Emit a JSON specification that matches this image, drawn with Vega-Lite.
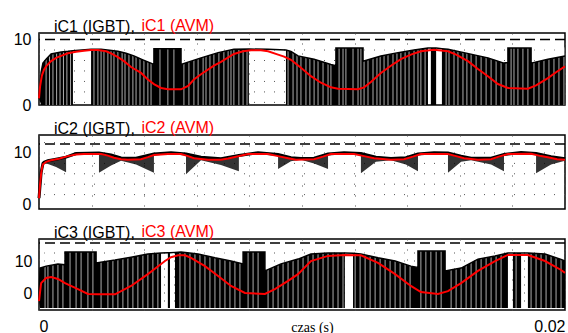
{
"$schema": "https://vega.github.io/schema/vega-lite/v6.json",
"padding": {"left": 12, "top": 16, "right": 0, "bottom": 0},
"spacing": 30,
"bounds": "flush",
"config": {
  "view": {"stroke": "#000", "strokeWidth": 1.5},
  "axis": {"labelFont": "Liberation Sans", "labelFontSize": 16, "labelColor": "#000", "ticks": false, "domain": false, "gridColor": "#555", "gridDash": [1, 9], "gridWidth": 1, "gridOpacity": 1, "labelOverlap": false},
  "title": {"font": "Liberation Sans", "fontSize": 16, "fontWeight": "normal", "color": "#000", "anchor": "start", "frame": "group", "baseline": "alphabetic", "offset": -18, "dx": 15}
},
"datasets": {
  "avm": [
    {"p":1,"t":0,"i":1.0},{"p":1,"t":0.00004,"i":2.8},{"p":1,"t":0.00008,"i":3.8},{"p":1,"t":0.00011,"i":4.5},{"p":1,"t":0.00019,"i":5.4},{"p":1,"t":0.00027,"i":5.9},{"p":1,"t":0.00046,"i":6.7},{"p":1,"t":0.00065,"i":7.2},{"p":1,"t":0.00084,"i":7.5},{"p":1,"t":0.00110,"i":7.9},{"p":1,"t":0.00141,"i":8.15},{"p":1,"t":0.00171,"i":8.3},{"p":1,"t":0.00198,"i":8.4},{"p":1,"t":0.00224,"i":8.4},{"p":1,"t":0.00255,"i":8.2},{"p":1,"t":0.00274,"i":7.9},{"p":1,"t":0.00300,"i":7.3},{"p":1,"t":0.00323,"i":6.7},{"p":1,"t":0.00350,"i":5.8},{"p":1,"t":0.00388,"i":4.9},{"p":1,"t":0.00414,"i":3.9},{"p":1,"t":0.00437,"i":3.2},{"p":1,"t":0.00464,"i":2.6},{"p":1,"t":0.00490,"i":2.4},{"p":1,"t":0.00540,"i":2.4},{"p":1,"t":0.00567,"i":2.9},{"p":1,"t":0.00589,"i":3.9},{"p":1,"t":0.00616,"i":4.7},{"p":1,"t":0.00665,"i":6.0},{"p":1,"t":0.00692,"i":6.6},{"p":1,"t":0.00741,"i":7.8},{"p":1,"t":0.00776,"i":8.2},{"p":1,"t":0.00806,"i":8.35},{"p":1,"t":0.00844,"i":8.35},{"p":1,"t":0.00871,"i":8.2},{"p":1,"t":0.00909,"i":7.7},{"p":1,"t":0.00932,"i":7.4},{"p":1,"t":0.00958,"i":6.9},{"p":1,"t":0.00996,"i":5.7},{"p":1,"t":0.01034,"i":4.4},{"p":1,"t":0.01072,"i":3.4},{"p":1,"t":0.01110,"i":2.7},{"p":1,"t":0.01137,"i":2.5},{"p":1,"t":0.01213,"i":2.4},{"p":1,"t":0.01236,"i":2.7},{"p":1,"t":0.01262,"i":3.5},{"p":1,"t":0.01300,"i":4.9},{"p":1,"t":0.01338,"i":6.0},{"p":1,"t":0.01376,"i":7.0},{"p":1,"t":0.01414,"i":7.7},{"p":1,"t":0.01452,"i":8.2},{"p":1,"t":0.01502,"i":8.45},{"p":1,"t":0.01555,"i":8.2},{"p":1,"t":0.01586,"i":7.7},{"p":1,"t":0.01631,"i":6.7},{"p":1,"t":0.01669,"i":5.5},{"p":1,"t":0.01707,"i":4.4},{"p":1,"t":0.01745,"i":3.2},{"p":1,"t":0.01783,"i":2.6},{"p":1,"t":0.01859,"i":2.5},{"p":1,"t":0.01890,"i":3.0},{"p":1,"t":0.01935,"i":4.1},{"p":1,"t":0.01966,"i":5.0},{"p":1,"t":0.02,"i":5.9},
    {"p":2,"t":0,"i":1.3},{"p":2,"t":0.00004,"i":4.0},{"p":2,"t":0.00008,"i":6.0},{"p":2,"t":0.00011,"i":7.0},{"p":2,"t":0.00015,"i":7.8},{"p":2,"t":0.00027,"i":8.3},{"p":2,"t":0.00046,"i":8.6},{"p":2,"t":0.00076,"i":8.9},{"p":2,"t":0.00110,"i":9.4},{"p":2,"t":0.00141,"i":9.7},{"p":2,"t":0.00171,"i":9.8},{"p":2,"t":0.00236,"i":9.8},{"p":2,"t":0.00262,"i":9.5},{"p":2,"t":0.00285,"i":9.1},{"p":2,"t":0.00312,"i":8.8},{"p":2,"t":0.00338,"i":8.7},{"p":2,"t":0.00388,"i":8.8},{"p":2,"t":0.00414,"i":9.2},{"p":2,"t":0.00437,"i":9.6},{"p":2,"t":0.00490,"i":9.8},{"p":2,"t":0.00540,"i":9.8},{"p":2,"t":0.00567,"i":9.4},{"p":2,"t":0.00589,"i":9.0},{"p":2,"t":0.00643,"i":8.7},{"p":2,"t":0.00692,"i":8.7},{"p":2,"t":0.00719,"i":8.95},{"p":2,"t":0.00741,"i":9.2},{"p":2,"t":0.00795,"i":9.8},{"p":2,"t":0.00871,"i":9.8},{"p":2,"t":0.00909,"i":9.4},{"p":2,"t":0.00947,"i":9.0},{"p":2,"t":0.00977,"i":8.7},{"p":2,"t":0.01046,"i":8.8},{"p":2,"t":0.01080,"i":9.3},{"p":2,"t":0.01110,"i":9.8},{"p":2,"t":0.01198,"i":9.8},{"p":2,"t":0.01236,"i":9.4},{"p":2,"t":0.01274,"i":9.0},{"p":2,"t":0.01338,"i":8.7},{"p":2,"t":0.01388,"i":8.8},{"p":2,"t":0.01422,"i":9.3},{"p":2,"t":0.01452,"i":9.8},{"p":2,"t":0.01555,"i":9.8},{"p":2,"t":0.01586,"i":9.4},{"p":2,"t":0.01616,"i":9.0},{"p":2,"t":0.01669,"i":8.7},{"p":2,"t":0.01719,"i":8.8},{"p":2,"t":0.01749,"i":9.3},{"p":2,"t":0.01783,"i":9.8},{"p":2,"t":0.01871,"i":9.85},{"p":2,"t":0.01909,"i":9.4},{"p":2,"t":0.01935,"i":9.2},{"p":2,"t":0.01970,"i":8.8},{"p":2,"t":0.02,"i":8.7},
    {"p":3,"t":0,"i":-2.5},{"p":3,"t":0.00008,"i":3.1},{"p":3,"t":0.00027,"i":4.7},{"p":3,"t":0.00046,"i":5.0},{"p":3,"t":0.00072,"i":4.4},{"p":3,"t":0.00099,"i":3.1},{"p":3,"t":0.00148,"i":1.2},{"p":3,"t":0.00186,"i":-0.3},{"p":3,"t":0.00224,"i":-0.4},{"p":3,"t":0.00289,"i":-0.4},{"p":3,"t":0.00350,"i":2.2},{"p":3,"t":0.00414,"i":5.9},{"p":3,"t":0.00479,"i":10.0},{"p":3,"t":0.00502,"i":11.2},{"p":3,"t":0.00529,"i":11.8},{"p":3,"t":0.00555,"i":11.8},{"p":3,"t":0.00578,"i":11.0},{"p":3,"t":0.00631,"i":8.4},{"p":3,"t":0.00681,"i":5.3},{"p":3,"t":0.00730,"i":2.2},{"p":3,"t":0.00783,"i":0.0},{"p":3,"t":0.00859,"i":-0.3},{"p":3,"t":0.00897,"i":1.2},{"p":3,"t":0.00947,"i":3.8},{"p":3,"t":0.00985,"i":5.9},{"p":3,"t":0.01034,"i":10.0},{"p":3,"t":0.01099,"i":11.6},{"p":3,"t":0.01163,"i":11.9},{"p":3,"t":0.01224,"i":11.8},{"p":3,"t":0.01289,"i":9.4},{"p":3,"t":0.01354,"i":5.9},{"p":3,"t":0.01414,"i":2.2},{"p":3,"t":0.01452,"i":0.3},{"p":3,"t":0.01517,"i":-0.3},{"p":3,"t":0.01555,"i":0.6},{"p":3,"t":0.01605,"i":3.1},{"p":3,"t":0.01669,"i":6.9},{"p":3,"t":0.01734,"i":10.0},{"p":3,"t":0.01783,"i":11.9},{"p":3,"t":0.01859,"i":11.9},{"p":3,"t":0.01924,"i":10.0},{"p":3,"t":0.01985,"i":7.2},{"p":3,"t":0.02,"i":6.3}
  ],
  "ig": [
    {"p":1,"t":0,"hi":1.0,"lo":1.0},{"p":1,"t":0.00008,"hi":5.0,"lo":0},{"p":1,"t":0.00015,"hi":6.4,"lo":0},{"p":1,"t":0.00027,"hi":7.0,"lo":0},{"p":1,"t":0.00046,"hi":7.8,"lo":0},{"p":1,"t":0.00084,"hi":8.1,"lo":0},{"p":1,"t":0.00110,"hi":8.2,"lo":0},{"p":1,"t":0.00129,"hi":8.3,"lo":0},{"p":1,"t":0.00129,"hi":8.3,"lo":8.3},{"p":1,"t":0.00198,"hi":8.5,"lo":8.5},{"p":1,"t":0.00198,"hi":8.5,"lo":0},{"p":1,"t":0.00236,"hi":8.5,"lo":0},{"p":1,"t":0.00300,"hi":8.2,"lo":0},{"p":1,"t":0.00331,"hi":7.9,"lo":0},{"p":1,"t":0.00361,"hi":7.5,"lo":0},{"p":1,"t":0.00395,"hi":6.9,"lo":0},{"p":1,"t":0.00437,"hi":6.2,"lo":0},{"p":1,"t":0.00437,"hi":8.6,"lo":0},{"p":1,"t":0.00540,"hi":8.6,"lo":0},{"p":1,"t":0.00540,"hi":6.2,"lo":0},{"p":1,"t":0.00578,"hi":6.7,"lo":0},{"p":1,"t":0.00616,"hi":7.2,"lo":0},{"p":1,"t":0.00681,"hi":8.0,"lo":0},{"p":1,"t":0.00741,"hi":8.5,"lo":0},{"p":1,"t":0.00798,"hi":8.55,"lo":0},{"p":1,"t":0.00798,"hi":8.55,"lo":8.55},{"p":1,"t":0.00871,"hi":8.5,"lo":8.5},{"p":1,"t":0.00939,"hi":8.4,"lo":8.4},{"p":1,"t":0.00939,"hi":8.4,"lo":0},{"p":1,"t":0.00958,"hi":8.2,"lo":0},{"p":1,"t":0.00985,"hi":7.5,"lo":0},{"p":1,"t":0.01046,"hi":7.0,"lo":0},{"p":1,"t":0.01110,"hi":6.2,"lo":0},{"p":1,"t":0.01129,"hi":6.0,"lo":0},{"p":1,"t":0.01129,"hi":8.7,"lo":0},{"p":1,"t":0.01232,"hi":8.7,"lo":0},{"p":1,"t":0.01232,"hi":6.7,"lo":0},{"p":1,"t":0.01300,"hi":7.5,"lo":0},{"p":1,"t":0.01365,"hi":8.0,"lo":0},{"p":1,"t":0.01426,"hi":8.4,"lo":0},{"p":1,"t":0.01479,"hi":8.7,"lo":0},{"p":1,"t":0.01479,"hi":8.7,"lo":8.7},{"p":1,"t":0.01490,"hi":8.7,"lo":8.7},{"p":1,"t":0.01490,"hi":8.7,"lo":0},{"p":1,"t":0.01510,"hi":8.7,"lo":0},{"p":1,"t":0.01510,"hi":8.7,"lo":8.7},{"p":1,"t":0.01532,"hi":8.6,"lo":8.6},{"p":1,"t":0.01532,"hi":8.6,"lo":0},{"p":1,"t":0.01555,"hi":8.5,"lo":0},{"p":1,"t":0.01616,"hi":8.0,"lo":0},{"p":1,"t":0.01707,"hi":7.2,"lo":0},{"p":1,"t":0.01768,"hi":6.4,"lo":0},{"p":1,"t":0.01783,"hi":6.5,"lo":0},{"p":1,"t":0.01783,"hi":8.7,"lo":0},{"p":1,"t":0.01871,"hi":8.7,"lo":0},{"p":1,"t":0.01871,"hi":6.4,"lo":0},{"p":1,"t":0.01935,"hi":7.0,"lo":0},{"p":1,"t":0.02,"hi":7.5,"lo":0},
    {"p":2,"t":0,"hi":1.3,"lo":1.3},{"p":2,"t":0.00008,"hi":6.2,"lo":6.2},{"p":2,"t":0.00015,"hi":8.0,"lo":8.0},{"p":2,"t":0.00019,"hi":8.2,"lo":8.2},{"p":2,"t":0.00019,"hi":8.2,"lo":8.0},{"p":2,"t":0.00034,"hi":8.5,"lo":7.9},{"p":2,"t":0.00065,"hi":8.8,"lo":7.3},{"p":2,"t":0.00103,"hi":9.2,"lo":6.3},{"p":2,"t":0.00103,"hi":9.2,"lo":9.2},{"p":2,"t":0.00141,"hi":9.9,"lo":9.9},{"p":2,"t":0.00228,"hi":10.0,"lo":10.0},{"p":2,"t":0.00228,"hi":10.0,"lo":6.2},{"p":2,"t":0.00274,"hi":9.6,"lo":7.6},{"p":2,"t":0.00312,"hi":9.05,"lo":8.5},{"p":2,"t":0.00369,"hi":9.0,"lo":7.8},{"p":2,"t":0.00437,"hi":9.8,"lo":6.2},{"p":2,"t":0.00437,"hi":9.8,"lo":9.8},{"p":2,"t":0.00502,"hi":10.05,"lo":10.05},{"p":2,"t":0.00559,"hi":9.8,"lo":9.8},{"p":2,"t":0.00559,"hi":9.8,"lo":5.9},{"p":2,"t":0.00616,"hi":9.2,"lo":8.6},{"p":2,"t":0.00692,"hi":8.9,"lo":7.7},{"p":2,"t":0.00760,"hi":9.5,"lo":6.5},{"p":2,"t":0.00760,"hi":9.5,"lo":9.5},{"p":2,"t":0.00833,"hi":10.05,"lo":10.05},{"p":2,"t":0.00909,"hi":9.7,"lo":9.7},{"p":2,"t":0.00909,"hi":9.7,"lo":6.9},{"p":2,"t":0.00958,"hi":9.1,"lo":8.4},{"p":2,"t":0.00996,"hi":8.95,"lo":8.7},{"p":2,"t":0.01046,"hi":9.0,"lo":8.0},{"p":2,"t":0.01099,"hi":9.8,"lo":6.9},{"p":2,"t":0.01099,"hi":9.8,"lo":9.8},{"p":2,"t":0.01160,"hi":10.05,"lo":10.05},{"p":2,"t":0.01224,"hi":9.9,"lo":9.9},{"p":2,"t":0.01224,"hi":9.9,"lo":6.1},{"p":2,"t":0.01281,"hi":9.2,"lo":8.3},{"p":2,"t":0.01338,"hi":8.95,"lo":8.6},{"p":2,"t":0.01395,"hi":9.1,"lo":7.8},{"p":2,"t":0.01441,"hi":9.8,"lo":6.5},{"p":2,"t":0.01441,"hi":9.8,"lo":9.8},{"p":2,"t":0.01502,"hi":10.05,"lo":10.05},{"p":2,"t":0.01555,"hi":10.0,"lo":10.0},{"p":2,"t":0.01555,"hi":10.0,"lo":6.2},{"p":2,"t":0.01605,"hi":9.4,"lo":8.3},{"p":2,"t":0.01643,"hi":9.0,"lo":8.6},{"p":2,"t":0.01719,"hi":9.0,"lo":7.8},{"p":2,"t":0.01768,"hi":9.7,"lo":6.5},{"p":2,"t":0.01768,"hi":9.7,"lo":9.7},{"p":2,"t":0.01833,"hi":10.1,"lo":10.1},{"p":2,"t":0.01890,"hi":9.9,"lo":9.9},{"p":2,"t":0.01890,"hi":9.9,"lo":6.1},{"p":2,"t":0.01947,"hi":9.3,"lo":7.8},{"p":2,"t":0.02,"hi":8.9,"lo":8.5},
    {"p":3,"t":0,"hi":-2.5,"lo":-2.5},{"p":3,"t":0.00004,"hi":7.8,"lo":-4.7},{"p":3,"t":0.00027,"hi":8.4,"lo":-4.7},{"p":3,"t":0.00072,"hi":9.1,"lo":-4.7},{"p":3,"t":0.00099,"hi":8.8,"lo":-4.7},{"p":3,"t":0.00099,"hi":12.8,"lo":-4.7},{"p":3,"t":0.00217,"hi":12.8,"lo":-4.7},{"p":3,"t":0.00217,"hi":9.4,"lo":-4.7},{"p":3,"t":0.00289,"hi":10.3,"lo":-4.7},{"p":3,"t":0.00350,"hi":11.2,"lo":-4.7},{"p":3,"t":0.00414,"hi":12.2,"lo":-4.7},{"p":3,"t":0.00464,"hi":12.5,"lo":-4.7},{"p":3,"t":0.00464,"hi":12.5,"lo":12.5},{"p":3,"t":0.00490,"hi":12.6,"lo":12.6},{"p":3,"t":0.00490,"hi":12.6,"lo":-4.7},{"p":3,"t":0.00498,"hi":12.6,"lo":-4.7},{"p":3,"t":0.00498,"hi":12.6,"lo":12.6},{"p":3,"t":0.00517,"hi":12.7,"lo":12.7},{"p":3,"t":0.00517,"hi":12.7,"lo":-4.7},{"p":3,"t":0.00540,"hi":12.8,"lo":-4.7},{"p":3,"t":0.00605,"hi":12.2,"lo":-4.7},{"p":3,"t":0.00669,"hi":11.0,"lo":-4.7},{"p":3,"t":0.00730,"hi":10.0,"lo":-4.7},{"p":3,"t":0.00776,"hi":9.1,"lo":-4.7},{"p":3,"t":0.00776,"hi":12.8,"lo":-4.7},{"p":3,"t":0.00859,"hi":12.8,"lo":-4.7},{"p":3,"t":0.00859,"hi":6.9,"lo":-4.7},{"p":3,"t":0.00920,"hi":9.1,"lo":-4.7},{"p":3,"t":0.00985,"hi":10.6,"lo":-4.7},{"p":3,"t":0.01034,"hi":12.2,"lo":-4.7},{"p":3,"t":0.01099,"hi":12.5,"lo":-4.7},{"p":3,"t":0.01163,"hi":12.5,"lo":-4.7},{"p":3,"t":0.01163,"hi":12.5,"lo":12.5},{"p":3,"t":0.01194,"hi":12.4,"lo":12.4},{"p":3,"t":0.01194,"hi":12.4,"lo":-4.7},{"p":3,"t":0.01224,"hi":12.2,"lo":-4.7},{"p":3,"t":0.01289,"hi":11.0,"lo":-4.7},{"p":3,"t":0.01354,"hi":10.0,"lo":-4.7},{"p":3,"t":0.01414,"hi":8.4,"lo":-4.7},{"p":3,"t":0.01441,"hi":8.0,"lo":-4.7},{"p":3,"t":0.01441,"hi":13.1,"lo":-4.7},{"p":3,"t":0.01544,"hi":13.1,"lo":-4.7},{"p":3,"t":0.01544,"hi":6.9,"lo":-4.7},{"p":3,"t":0.01605,"hi":7.8,"lo":-4.7},{"p":3,"t":0.01669,"hi":10.6,"lo":-4.7},{"p":3,"t":0.01734,"hi":11.6,"lo":-4.7},{"p":3,"t":0.01783,"hi":12.5,"lo":-4.7},{"p":3,"t":0.01783,"hi":12.5,"lo":12.5},{"p":3,"t":0.01802,"hi":12.5,"lo":12.5},{"p":3,"t":0.01802,"hi":12.5,"lo":-4.7},{"p":3,"t":0.01833,"hi":12.5,"lo":-4.7},{"p":3,"t":0.01833,"hi":12.5,"lo":12.5},{"p":3,"t":0.01859,"hi":12.5,"lo":12.5},{"p":3,"t":0.01859,"hi":12.5,"lo":-4.7},{"p":3,"t":0.01924,"hi":12.2,"lo":-4.7},{"p":3,"t":0.01985,"hi":10.5,"lo":-4.7},{"p":3,"t":0.02,"hi":10.0,"lo":-4.7}
  ],
  "slit": [
    {"p":1,"t":0.00027},{"p":1,"t":0.00040},{"p":1,"t":0.00053},{"p":1,"t":0.00067},{"p":1,"t":0.00080},{"p":1,"t":0.00093},{"p":1,"t":0.00106},{"p":1,"t":0.00120},{"p":1,"t":0.00209},{"p":1,"t":0.00224},{"p":1,"t":0.00236},{"p":1,"t":0.00247},{"p":1,"t":0.00262},{"p":1,"t":0.00274},{"p":1,"t":0.00285},{"p":1,"t":0.00300},{"p":1,"t":0.00316},{"p":1,"t":0.00327},{"p":1,"t":0.00342},{"p":1,"t":0.00357},{"p":1,"t":0.00369},{"p":1,"t":0.00384},{"p":1,"t":0.00399},{"p":1,"t":0.00414},{"p":1,"t":0.00426},{"p":1,"t":0.00460},{"p":1,"t":0.00490},{"p":1,"t":0.00513},{"p":1,"t":0.00551},{"p":1,"t":0.00570},{"p":1,"t":0.00589},{"p":1,"t":0.00605},{"p":1,"t":0.00624},{"p":1,"t":0.00635},{"p":1,"t":0.00650},{"p":1,"t":0.00665},{"p":1,"t":0.00684},{"p":1,"t":0.00703},{"p":1,"t":0.00719},{"p":1,"t":0.00730},{"p":1,"t":0.00741},{"p":1,"t":0.00760},{"p":1,"t":0.00776},{"p":1,"t":0.00791},{"p":1,"t":0.00947},{"p":1,"t":0.00966},{"p":1,"t":0.00981},{"p":1,"t":0.00996},{"p":1,"t":0.01015},{"p":1,"t":0.01030},{"p":1,"t":0.01046},{"p":1,"t":0.01061},{"p":1,"t":0.01080},{"p":1,"t":0.01099},{"p":1,"t":0.01110},{"p":1,"t":0.01141},{"p":1,"t":0.01156},{"p":1,"t":0.01167},{"p":1,"t":0.01194},{"p":1,"t":0.01213},{"p":1,"t":0.01224},{"p":1,"t":0.01236},{"p":1,"t":0.01251},{"p":1,"t":0.01270},{"p":1,"t":0.01285},{"p":1,"t":0.01297},{"p":1,"t":0.01312},{"p":1,"t":0.01327},{"p":1,"t":0.01346},{"p":1,"t":0.01361},{"p":1,"t":0.01376},{"p":1,"t":0.01392},{"p":1,"t":0.01407},{"p":1,"t":0.01426},{"p":1,"t":0.01441},{"p":1,"t":0.01452},{"p":1,"t":0.01468},{"p":1,"t":0.01548},{"p":1,"t":0.01559},{"p":1,"t":0.01578},{"p":1,"t":0.01593},{"p":1,"t":0.01612},{"p":1,"t":0.01627},{"p":1,"t":0.01643},{"p":1,"t":0.01662},{"p":1,"t":0.01681},{"p":1,"t":0.01700},{"p":1,"t":0.01719},{"p":1,"t":0.01738},{"p":1,"t":0.01757},{"p":1,"t":0.01776},{"p":1,"t":0.01795},{"p":1,"t":0.01806},{"p":1,"t":0.01821},{"p":1,"t":0.01840},{"p":1,"t":0.01859},{"p":1,"t":0.01882},{"p":1,"t":0.01901},{"p":1,"t":0.01920},{"p":1,"t":0.01939},{"p":1,"t":0.01958},{"p":1,"t":0.01977},{"p":1,"t":0.01996},
    {"p":3,"t":0.00023},{"p":3,"t":0.00034},{"p":3,"t":0.00053},{"p":3,"t":0.00072},{"p":3,"t":0.00091},{"p":3,"t":0.00118},{"p":3,"t":0.00141},{"p":3,"t":0.00160},{"p":3,"t":0.00186},{"p":3,"t":0.00205},{"p":3,"t":0.00236},{"p":3,"t":0.00262},{"p":3,"t":0.00281},{"p":3,"t":0.00300},{"p":3,"t":0.00319},{"p":3,"t":0.00338},{"p":3,"t":0.00357},{"p":3,"t":0.00376},{"p":3,"t":0.00395},{"p":3,"t":0.00414},{"p":3,"t":0.00433},{"p":3,"t":0.00452},{"p":3,"t":0.00536},{"p":3,"t":0.00555},{"p":3,"t":0.00574},{"p":3,"t":0.00593},{"p":3,"t":0.00612},{"p":3,"t":0.00631},{"p":3,"t":0.00650},{"p":3,"t":0.00669},{"p":3,"t":0.00688},{"p":3,"t":0.00707},{"p":3,"t":0.00726},{"p":3,"t":0.00745},{"p":3,"t":0.00764},{"p":3,"t":0.00795},{"p":3,"t":0.00814},{"p":3,"t":0.00833},{"p":3,"t":0.00871},{"p":3,"t":0.00890},{"p":3,"t":0.00909},{"p":3,"t":0.00928},{"p":3,"t":0.00947},{"p":3,"t":0.00966},{"p":3,"t":0.00985},{"p":3,"t":0.01004},{"p":3,"t":0.01023},{"p":3,"t":0.01042},{"p":3,"t":0.01061},{"p":3,"t":0.01080},{"p":3,"t":0.01099},{"p":3,"t":0.01118},{"p":3,"t":0.01137},{"p":3,"t":0.01156},{"p":3,"t":0.01202},{"p":3,"t":0.01221},{"p":3,"t":0.01240},{"p":3,"t":0.01259},{"p":3,"t":0.01278},{"p":3,"t":0.01297},{"p":3,"t":0.01316},{"p":3,"t":0.01335},{"p":3,"t":0.01354},{"p":3,"t":0.01373},{"p":3,"t":0.01392},{"p":3,"t":0.01411},{"p":3,"t":0.01452},{"p":3,"t":0.01471},{"p":3,"t":0.01490},{"p":3,"t":0.01510},{"p":3,"t":0.01529},{"p":3,"t":0.01567},{"p":3,"t":0.01586},{"p":3,"t":0.01605},{"p":3,"t":0.01624},{"p":3,"t":0.01643},{"p":3,"t":0.01662},{"p":3,"t":0.01681},{"p":3,"t":0.01700},{"p":3,"t":0.01719},{"p":3,"t":0.01738},{"p":3,"t":0.01757},{"p":3,"t":0.01814},{"p":3,"t":0.01871},{"p":3,"t":0.01890},{"p":3,"t":0.01909},{"p":3,"t":0.01928},{"p":3,"t":0.01947},{"p":3,"t":0.01966},{"p":3,"t":0.01985}
  ],
  "grid": [
    {"p":1,"g":0.4},{"p":1,"g":2.0},{"p":1,"g":3.6},{"p":1,"g":5.2},{"p":1,"g":6.8},{"p":1,"g":8.4},
    {"p":2,"g":2},{"p":2,"g":4},{"p":2,"g":6},{"p":2,"g":8},{"p":2,"g":10},{"p":2,"g":12},
    {"p":3,"g":-2.5},{"p":3,"g":0},{"p":3,"g":2.5},{"p":3,"g":5},{"p":3,"g":7.5},{"p":3,"g":10},{"p":3,"g":12.5}
  ]
},
"vconcat": [
  {
    "width": 526, "height": 72,
    "title": {"text": "iC1 (IGBT),"},
    "layer": [
      {"data": {"name": "grid"}, "transform": [{"filter": "datum.p == 1"}],
       "mark": {"type": "rule", "color": "#555", "strokeWidth": 1, "strokeDash": [1, 9]},
       "encoding": {"y": {"field": "g", "type": "quantitative", "scale": {"domain": [0, 11], "nice": false, "zero": false}, "axis": {"values": [0, 10], "grid": false, "labelPadding": 8, "title": "iC1 (AVM)", "titleColor": "#ff0000", "titleFont": "Liberation Sans", "titleFontSize": 16, "titleFontWeight": "normal", "titleAngle": 0, "titleAlign": "left", "titleBaseline": "alphabetic", "titleX": 102, "titleY": -3}}}},
      {"data": {"name": "ig"}, "transform": [{"filter": "datum.p == 1"}],
       "mark": {"type": "area", "color": "#000", "opacity": 1},
       "encoding": {
         "x": {"field": "t", "type": "quantitative", "scale": {"domain": [0, 0.02], "nice": false}, "axis": {"values": [0, 0.002, 0.004, 0.006, 0.008, 0.01, 0.012, 0.014, 0.016, 0.018, 0.02], "labels": false, "title": null, "grid": true}},
         "y": {"field": "hi", "type": "quantitative"},
         "y2": {"field": "lo"}
       }},
      {"data": {"name": "slit"}, "transform": [{"filter": "datum.p == 1"}],
       "mark": {"type": "rule", "color": "#fff", "strokeWidth": 0.8, "opacity": 0.85},
       "encoding": {"x": {"field": "t", "type": "quantitative"}, "y": {"datum": 0}, "y2": {"datum": 8.8}}},
      {"data": {"name": "ig"}, "transform": [{"filter": "datum.p == 1"}],
       "mark": {"type": "line", "color": "#000", "strokeWidth": 1.5},
       "encoding": {"x": {"field": "t", "type": "quantitative"}, "y": {"field": "hi", "type": "quantitative"}}},
      {"data": {"values": [{}]},
       "mark": {"type": "rule", "color": "#000", "strokeWidth": 1.5, "strokeDash": [10, 5]},
       "encoding": {"y": {"datum": 10}}},
      {"data": {"name": "avm"}, "transform": [{"filter": "datum.p == 1"}],
       "mark": {"type": "line", "color": "#ff0000", "strokeWidth": 2},
       "encoding": {"x": {"field": "t", "type": "quantitative"}, "y": {"field": "i", "type": "quantitative"}}}
    ]
  },
  {
    "width": 526, "height": 74,
    "title": {"text": "iC2 (IGBT),"},
    "layer": [
      {"data": {"name": "grid"}, "transform": [{"filter": "datum.p == 2"}],
       "mark": {"type": "rule", "color": "#555", "strokeWidth": 1, "strokeDash": [1, 9]},
       "encoding": {"y": {"field": "g", "type": "quantitative", "scale": {"domain": [-0.77, 13.46], "nice": false, "zero": false}, "axis": {"values": [0, 10], "grid": false, "labelPadding": 8, "title": "iC2 (AVM)", "titleColor": "#ff0000", "titleFont": "Liberation Sans", "titleFontSize": 16, "titleFontWeight": "normal", "titleAngle": 0, "titleAlign": "left", "titleBaseline": "alphabetic", "titleX": 102, "titleY": -3}}}},
      {"data": {"name": "ig"}, "transform": [{"filter": "datum.p == 2"}],
       "mark": {"type": "area", "color": "#000", "opacity": 0.8},
       "encoding": {
         "x": {"field": "t", "type": "quantitative", "scale": {"domain": [0, 0.02], "nice": false}, "axis": {"values": [0, 0.002, 0.004, 0.006, 0.008, 0.01, 0.012, 0.014, 0.016, 0.018, 0.02], "labels": false, "title": null, "grid": true}},
         "y": {"field": "hi", "type": "quantitative"},
         "y2": {"field": "lo"}
       }},
      {"data": {"name": "ig"}, "transform": [{"filter": "datum.p == 2"}],
       "mark": {"type": "line", "color": "#000", "strokeWidth": 3},
       "encoding": {"x": {"field": "t", "type": "quantitative"}, "y": {"field": "hi", "type": "quantitative"}}},
      {"data": {"values": [{}]},
       "mark": {"type": "rule", "color": "#000", "strokeWidth": 1.5, "strokeDash": [10, 5]},
       "encoding": {"y": {"datum": 11.73}}},
      {"data": {"name": "avm"}, "transform": [{"filter": "datum.p == 2"}],
       "mark": {"type": "line", "color": "#ff0000", "strokeWidth": 2},
       "encoding": {"x": {"field": "t", "type": "quantitative"}, "y": {"field": "i", "type": "quantitative"}}}
    ]
  },
  {
    "width": 526, "height": 71,
    "title": {"text": "iC3 (IGBT),"},
    "layer": [
      {"data": {"name": "grid"}, "transform": [{"filter": "datum.p == 3"}],
       "mark": {"type": "rule", "color": "#555", "strokeWidth": 1, "strokeDash": [1, 9]},
       "encoding": {"y": {"field": "g", "type": "quantitative", "scale": {"domain": [-5.31, 16.88], "nice": false, "zero": false}, "axis": {"values": [0, 10], "grid": false, "labelPadding": 7, "title": "iC3 (AVM)", "titleColor": "#ff0000", "titleFont": "Liberation Sans", "titleFontSize": 16, "titleFontWeight": "normal", "titleAngle": 0, "titleAlign": "left", "titleBaseline": "alphabetic", "titleX": 102, "titleY": -3}}}},
      {"data": {"name": "ig"}, "transform": [{"filter": "datum.p == 3"}],
       "mark": {"type": "area", "color": "#000", "opacity": 1},
       "encoding": {
         "x": {"field": "t", "type": "quantitative", "scale": {"domain": [0, 0.02], "nice": false}, "axis": {"values": [0, 0.002, 0.004, 0.006, 0.008, 0.01, 0.012, 0.014, 0.016, 0.018, 0.02], "format": "~g", "labelExpr": "datum.value == 0 || datum.value == 0.02 ? datum.label : ''", "labelFlush": true, "labelPadding": 8, "grid": true, "title": "czas (s)", "titleFont": "Liberation Serif", "titleFontSize": 14, "titleFontWeight": "normal", "titleColor": "#000", "titleX": 273, "titleY": 21, "titleAlign": "center", "titleBaseline": "alphabetic"}},
         "y": {"field": "hi", "type": "quantitative"},
         "y2": {"field": "lo"}
       }},
      {"data": {"name": "slit"}, "transform": [{"filter": "datum.p == 3"}],
       "mark": {"type": "rule", "color": "#fff", "strokeWidth": 0.8, "opacity": 0.85},
       "encoding": {"x": {"field": "t", "type": "quantitative"}, "y": {"datum": -4.7}, "y2": {"datum": 13.2}}},
      {"data": {"name": "ig"}, "transform": [{"filter": "datum.p == 3"}],
       "mark": {"type": "line", "color": "#000", "strokeWidth": 1.5},
       "encoding": {"x": {"field": "t", "type": "quantitative"}, "y": {"field": "hi", "type": "quantitative"}}},
      {"data": {"values": [{}]},
       "mark": {"type": "rule", "color": "#000", "strokeWidth": 1.5, "strokeDash": [10, 5]},
       "encoding": {"y": {"datum": 15.6}}},
      {"data": {"name": "avm"}, "transform": [{"filter": "datum.p == 3"}],
       "mark": {"type": "line", "color": "#ff0000", "strokeWidth": 2},
       "encoding": {"x": {"field": "t", "type": "quantitative"}, "y": {"field": "i", "type": "quantitative"}}}
    ]
  }
]
}
